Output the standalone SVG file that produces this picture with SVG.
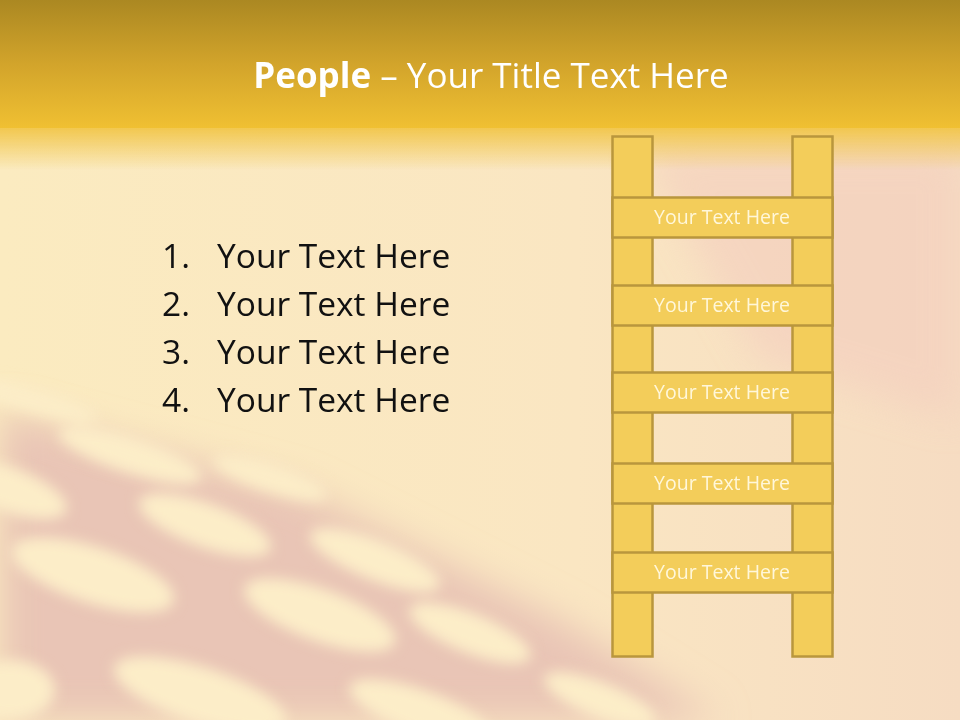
<svg xmlns="http://www.w3.org/2000/svg" width="960" height="720" viewBox="0 0 960 720">
<defs>
<linearGradient id="hdr" x1="0" y1="0" x2="0" y2="1">
<stop offset="0" stop-color="#ab8822"/>
<stop offset="0.5" stop-color="#d2a42b"/>
<stop offset="1" stop-color="#f0c032"/>
</linearGradient>
<linearGradient id="fade" x1="0" y1="0" x2="0" y2="1">
<stop offset="0" stop-color="#f1c547"/>
<stop offset="1" stop-color="#f1c547" stop-opacity="0"/>
</linearGradient>
<linearGradient id="base" x1="0" y1="0" x2="1" y2="0">
<stop offset="0" stop-color="#fbebc0"/>
<stop offset="0.6" stop-color="#fae6c2"/>
<stop offset="1" stop-color="#f6dcc2"/>
</linearGradient>
<filter id="blur" x="-50%" y="-50%" width="200%" height="200%"><feGaussianBlur stdDeviation="18"/></filter>
<filter id="blur2" x="-50%" y="-50%" width="200%" height="200%"><feGaussianBlur stdDeviation="7"/></filter>
<style>
.rail{fill:#f3cd5a;stroke:#b9963d;stroke-width:2.5}
.rt{font-family:"Open Sans","DejaVu Sans",sans-serif;font-size:19.5px;fill:#fff7da;text-anchor:middle}
.li{font-family:"Open Sans","DejaVu Sans",sans-serif;font-size:33.5px;fill:#111}
.oval{fill:#fcedc8}
</style>
</defs>
<g id="background">
<rect width="960" height="720" fill="url(#base)"/>
<path d="M640 150 L960 150 L960 420 L760 360 Z" fill="#f4d0bf" opacity="0.7" filter="url(#blur)"/>
<path d="M0 410 L300 490 L560 620 L720 720 L0 720 Z" fill="#e9c5b6" filter="url(#blur)"/>
<g filter="url(#blur2)">
<ellipse class="oval" cx="30" cy="400" rx="70" ry="12" transform="rotate(15 30 400)"/>
<ellipse class="oval" cx="130" cy="455" rx="75" ry="18" transform="rotate(18 130 455)"/>
<ellipse class="oval" cx="10" cy="490" rx="60" ry="22" transform="rotate(20 10 490)"/>
<ellipse class="oval" cx="93" cy="575" rx="85" ry="28" transform="rotate(18 93 575)"/>
<ellipse class="oval" cx="205" cy="525" rx="70" ry="22" transform="rotate(20 205 525)"/>
<ellipse class="oval" cx="270" cy="478" rx="60" ry="14" transform="rotate(18 270 478)"/>
<ellipse class="oval" cx="320" cy="615" rx="80" ry="26" transform="rotate(20 320 615)"/>
<ellipse class="oval" cx="375" cy="560" rx="70" ry="20" transform="rotate(22 375 560)"/>
<ellipse class="oval" cx="470" cy="633" rx="65" ry="20" transform="rotate(22 470 633)"/>
<ellipse class="oval" cx="200" cy="695" rx="90" ry="28" transform="rotate(18 200 695)"/>
<ellipse class="oval" cx="420" cy="712" rx="75" ry="22" transform="rotate(20 420 712)"/>
<ellipse class="oval" cx="10" cy="690" rx="45" ry="30"/>
<ellipse class="oval" cx="600" cy="700" rx="60" ry="18" transform="rotate(22 600 700)"/>
</g>
<rect y="125" width="960" height="45" fill="url(#fade)"/>
<rect width="960" height="128" fill="url(#hdr)"/>
</g>
<g id="title">
<text x="491" y="88" text-anchor="middle" font-family="'Open Sans','DejaVu Sans',sans-serif" font-size="35" fill="#ffffff"><tspan font-weight="bold">People</tspan> – Your Title Text Here</text>
</g>
<g id="list">
<text class="li" x="162" y="268">1.</text><text class="li" x="217" y="268">Your Text Here</text>
<text class="li" x="162" y="316">2.</text><text class="li" x="217" y="316">Your Text Here</text>
<text class="li" x="162" y="364">3.</text><text class="li" x="217" y="364">Your Text Here</text>
<text class="li" x="162" y="412">4.</text><text class="li" x="217" y="412">Your Text Here</text>
</g>
<g id="ladder">
<g id="rail-left"><rect class="rail" x="612.5" y="136.5" width="40" height="520"/></g>
<g id="rail-right"><rect class="rail" x="792.5" y="136.5" width="40" height="520"/></g>
<g id="rung1"><rect class="rail" x="612.5" y="197.5" width="220" height="40"/><text class="rt" x="722" y="224">Your Text Here</text></g>
<g id="rung2"><rect class="rail" x="612.5" y="285.5" width="220" height="40"/><text class="rt" x="722" y="312">Your Text Here</text></g>
<g id="rung3"><rect class="rail" x="612.5" y="372.5" width="220" height="40"/><text class="rt" x="722" y="399">Your Text Here</text></g>
<g id="rung4"><rect class="rail" x="612.5" y="463.5" width="220" height="40"/><text class="rt" x="722" y="490">Your Text Here</text></g>
<g id="rung5"><rect class="rail" x="612.5" y="552.5" width="220" height="40"/><text class="rt" x="722" y="579">Your Text Here</text></g>
</g>
</svg>
